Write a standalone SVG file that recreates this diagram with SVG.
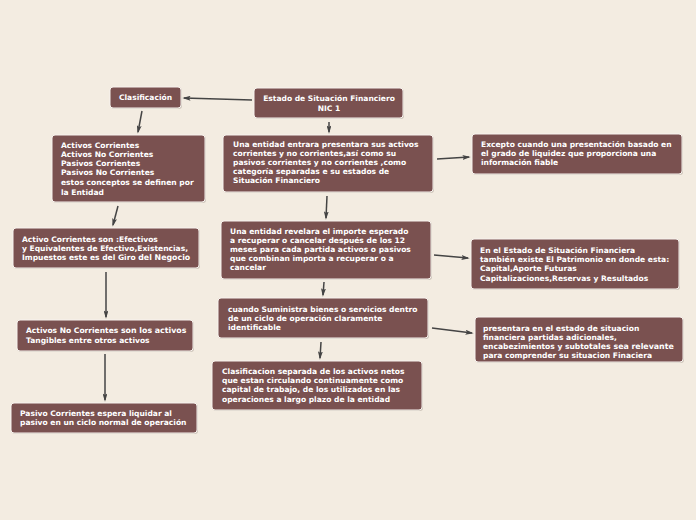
<svg xmlns="http://www.w3.org/2000/svg" width="696" height="520" viewBox="0 0 696 520">
<defs>
<style>
.bg{fill:#F3ECE1}
.box{fill:#7A5150;stroke:#F7F3EE;stroke-width:1}
.sh{fill:#cfc6bb}
.t{font-family:"DejaVu Sans",Verdana,sans-serif;font-weight:bold;font-size:7.55px;fill:#FFFFFF}
.b{font-size:7.85px}
.c{stroke:#444444;stroke-width:1.5;fill:none;marker-end:url(#ah)}
</style>
<marker id="ah" viewBox="0 0 10 6" refX="8" refY="3" markerWidth="5.5" markerHeight="3.3" orient="auto" markerUnits="strokeWidth">
<path d="M0,0 L10,3 L0,6 L2,3 Z" fill="#444444"/>
</marker>
</defs>
<rect class="bg" x="0" y="0" width="696" height="520"/>
<g id="connectors">
<line class="c" x1="252" y1="100" x2="184" y2="98"/>
<line class="c" x1="329" y1="122" x2="329" y2="132"/>
<line class="c" x1="142" y1="111" x2="138" y2="132"/>
<line class="c" x1="118" y1="206" x2="113" y2="225"/>
<line class="c" x1="106" y1="272" x2="106" y2="317"/>
<line class="c" x1="105" y1="354" x2="105" y2="400"/>
<line class="c" x1="437" y1="159" x2="469" y2="157"/>
<line class="c" x1="327" y1="196" x2="326" y2="218"/>
<line class="c" x1="434" y1="255" x2="468" y2="258"/>
<line class="c" x1="324" y1="282" x2="323" y2="295"/>
<line class="c" x1="432" y1="328" x2="472" y2="333"/>
<line class="c" x1="321" y1="342" x2="320" y2="358"/>
</g>
<g id="n-estado">
<rect class="sh" x="255" y="89" width="149" height="30" rx="3"/>
<rect class="box" x="254" y="88" width="149" height="30" rx="3"/>
<text class="t" x="329" y="101" text-anchor="middle">Estado de Situación Financiero</text>
<text class="t" x="329" y="111" text-anchor="middle">NIC 1</text>
</g>
<g id="n-clasificacion">
<rect class="sh" x="111" y="88" width="71" height="21" rx="3"/>
<rect class="box" x="110" y="87" width="71" height="21" rx="3"/>
<text class="t" x="145.5" y="100" text-anchor="middle">Clasificación</text>
</g>
<g id="n-activos-list">
<rect class="sh" x="53" y="136" width="153" height="67" rx="3"/>
<rect class="box" x="52" y="135" width="153" height="67" rx="3"/>
<text class="t" x="61" y="148">Activos Corrientes</text>
<text class="t" x="61" y="157">Activos No Corrientes</text>
<text class="t" x="61" y="166">Pasivos Corrientes</text>
<text class="t" x="61" y="175">Pasivos No Corrientes</text>
<text class="t" x="61" y="185">estos conceptos se definen por</text>
<text class="t" x="61" y="195">la Entidad</text>
</g>
<g id="n-entrara">
<rect class="sh" x="224" y="136" width="210" height="57" rx="3"/>
<rect class="box" x="223" y="135" width="210" height="57" rx="3"/>
<text class="t" x="233" y="147">Una entidad entrara presentara sus activos</text>
<text class="t" x="233" y="156">corrientes y no corrientes,así como su</text>
<text class="t" x="233" y="165">pasivos corrientes y no corrientes ,como</text>
<text class="t" x="233" y="174">categoría separadas e su estados de</text>
<text class="t" x="233" y="183">Situación Financiero</text>
</g>
<g id="n-excepto">
<rect class="sh" x="473" y="135" width="210" height="40" rx="3"/>
<rect class="box" x="472" y="134" width="210" height="40" rx="3"/>
<text class="t" x="481" y="147">Excepto cuando <tspan class="b">u</tspan>na presentación basado en</text>
<text class="t" x="481" y="156">el grado de liquidez que proporciona una</text>
<text class="t" x="481" y="165">información fiable</text>
</g>
<g id="n-activo-corrientes-son">
<rect class="sh" x="14" y="229" width="186" height="40" rx="3"/>
<rect class="box" x="13" y="228" width="186" height="40" rx="3"/>
<text class="t" x="22" y="242">Activo Corrientes son :Efectivos</text>
<text class="t" x="22" y="251">y Equivalentes de Efectivo,Existencias,</text>
<text class="t" x="22" y="260">Impuestos este es del Giro <tspan class="b">del Negocio</tspan></text>
</g>
<g id="n-revelara">
<rect class="sh" x="222" y="222" width="210" height="58" rx="3"/>
<rect class="box" x="221" y="221" width="210" height="58" rx="3"/>
<text class="t" x="230" y="234">Una entidad revelara el importe esperado</text>
<text class="t" x="230" y="243">a recuperar o cancelar después de los 12</text>
<text class="t" x="230" y="252">meses para cada partida activos o pasivos</text>
<text class="t" x="230" y="261">que combinan importa a recuperar o a</text>
<text class="t" x="230" y="270">cancelar</text>
</g>
<g id="n-patrimonio">
<rect class="sh" x="472" y="240" width="208" height="50" rx="3"/>
<rect class="box" x="471" y="239" width="208" height="50" rx="3"/>
<text class="t" x="480" y="253">En el Estado de Situación Financiera</text>
<text class="t" x="480" y="262">también existe El Patrimonio en donde esta:</text>
<text class="t" x="480" y="271">Capital,Aporte Futuras</text>
<text class="t" x="480" y="281">Capitalizaciones,Reservas y Resultados</text>
</g>
<g id="n-suministra">
<rect class="sh" x="219" y="299" width="210" height="40" rx="3"/>
<rect class="box" x="218" y="298" width="210" height="40" rx="3"/>
<text class="t" x="228" y="312">cuando Suministra bienes o servicios dentro</text>
<text class="t" x="228" y="321">de un ciclo de operación claramente</text>
<text class="t" x="228" y="330">identificable</text>
</g>
<g id="n-presentara">
<rect class="sh" x="476" y="318" width="208" height="45" rx="3"/>
<rect class="box" x="475" y="317" width="208" height="45" rx="3"/>
<text class="t" x="483" y="331">presentara en el estado de situacion</text>
<text class="t" x="483" y="340">financiera partidas adicionales,</text>
<text class="t" x="483" y="349">encabezimientos y subto<tspan class="b">tales sea relevante</tspan></text>
<text class="t" x="483" y="358">para comprender su situacion Finaciera</text>
</g>
<g id="n-activos-no-corrientes">
<rect class="sh" x="18" y="321" width="176" height="31" rx="3"/>
<rect class="box" x="17" y="320" width="176" height="31" rx="3"/>
<text class="t" x="26" y="333">Activos No Corrientes <tspan class="b">son los activos</tspan></text>
<text class="t" x="26" y="343">Tangibles entre otros activos</text>
</g>
<g id="n-clasificacion-separada">
<rect class="sh" x="213" y="362" width="210" height="49" rx="3"/>
<rect class="box" x="212" y="361" width="210" height="49" rx="3"/>
<text class="t" x="222" y="374">Clasificacion separada de los activos netos</text>
<text class="t" x="222" y="383">que estan circulando continuamente como</text>
<text class="t" x="222" y="392">capital de trabajo, de los utilizados en las</text>
<text class="t" x="222" y="402">operaciones a largo plazo de la entidad</text>
</g>
<g id="n-pasivo-corrientes">
<rect class="sh" x="12" y="404" width="186" height="30" rx="3"/>
<rect class="box" x="11" y="403" width="186" height="30" rx="3"/>
<text class="t" x="20" y="416">Pasivo Corrientes espera liquidar al</text>
<text class="t" x="20" y="425">pasivo en un ciclo normal de operación</text>
</g>
</svg>
